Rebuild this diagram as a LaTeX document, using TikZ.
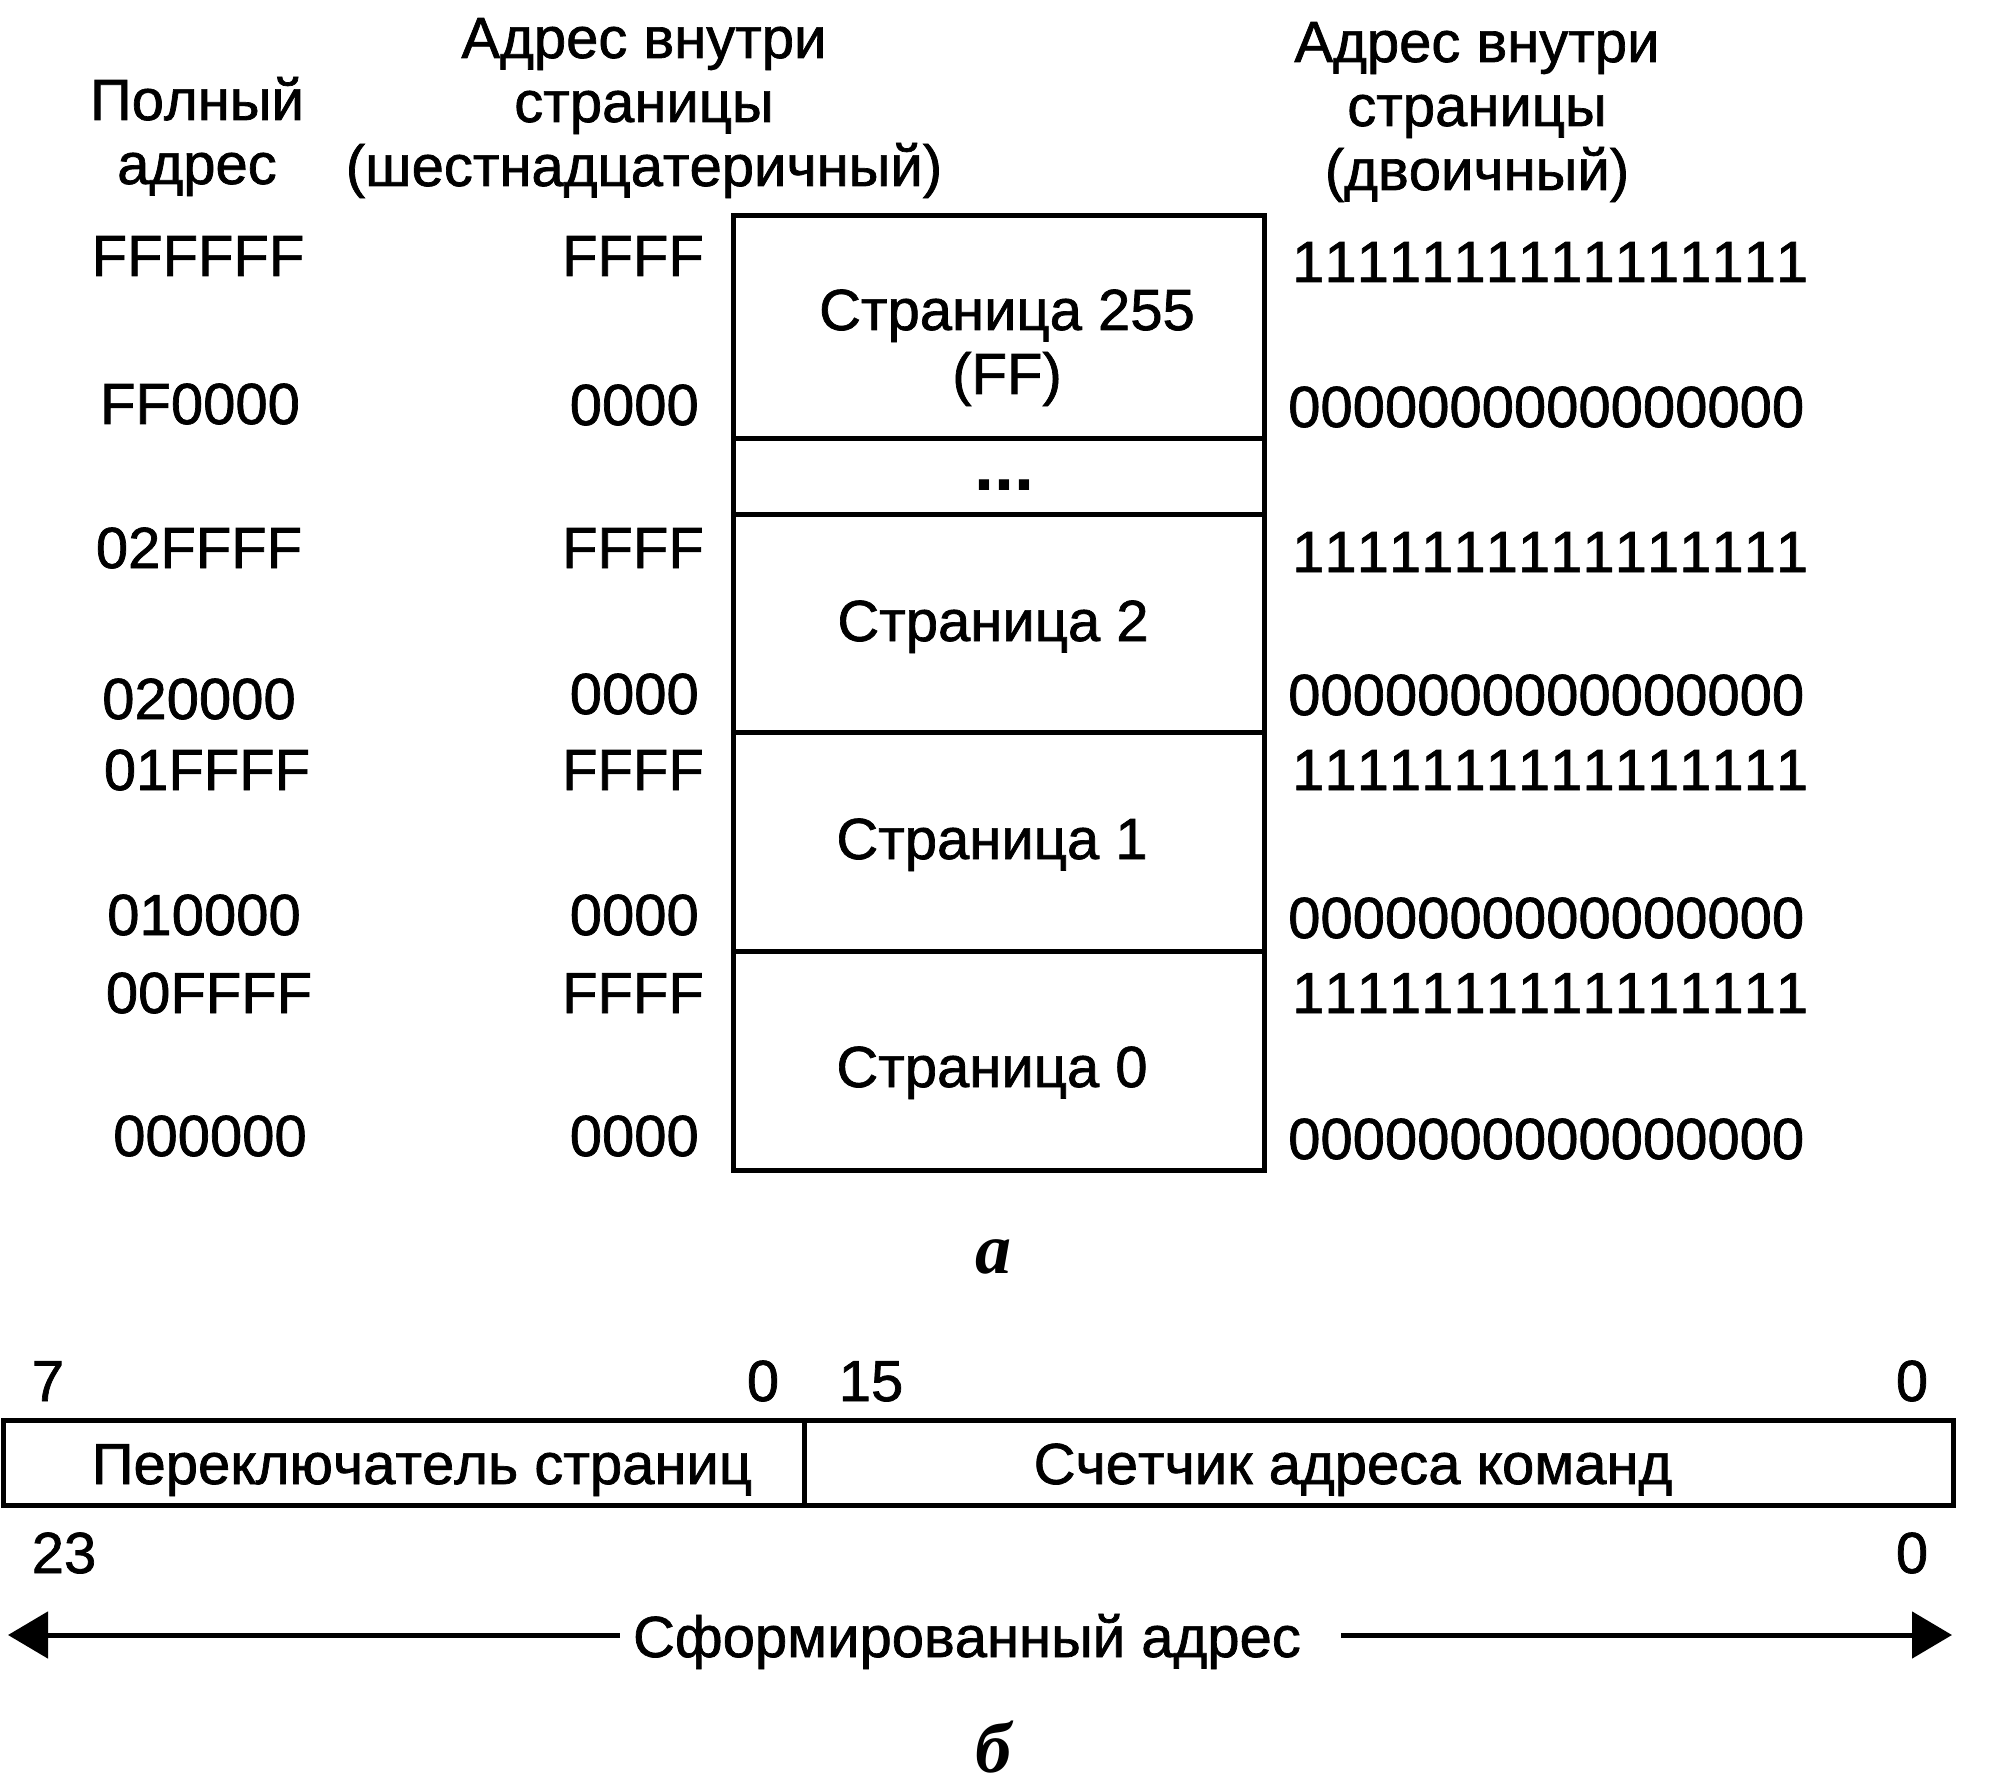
\documentclass[tikz,border=0pt]{standalone}
\usepackage{fontspec}
\setmainfont[Kerning=Off,UprightFeatures={FakeBold=1.2}]{Liberation Sans}
\newfontfamily\dotfont{Liberation Sans Bold}
\newfontfamily\itserif{Liberation Serif}
\usetikzlibrary{arrows.meta}
\begin{document}
\begin{tikzpicture}[x=1pt,y=-1pt,
  lbl/.style={inner sep=0pt, font=\fontsize{58}{64}\selectfont, anchor=base},
  hdr/.style={lbl, align=center},
  hexl/.style={lbl, anchor=base east},
  binl/.style={lbl, anchor=base west},
  pagebox/.style={draw, line width=5pt, inner sep=0pt, minimum width=531pt},
  regbox/.style={draw, line width=5pt, inner sep=0pt, minimum height=85pt},
  sublbl/.style={inner sep=0pt, anchor=base, font=\itserif\bfseries\itshape\fontsize{72}{80}\selectfont},
  bigarrow/.style={line width=5pt, -{Triangle[length=40pt,width=46pt]}}
]
\useasboundingbox (0,0) rectangle (1992,1784);

% headers (anchor base = baseline of last line)
\node[hdr] (h1) at (197,184) {Полный\\адрес};
\node[hdr] (h2) at (644,186) {Адрес внутри\\страницы\\(шестнадцатеричный)};
\node[hdr] (h3) at (1477,190) {Адрес внутри\\страницы\\(двоичный)};

% memory pages
\node[pagebox, minimum height=222pt] (p255) at (998.5,327) {};
\node[pagebox, minimum height=76pt] (pdots) at (998.5,476) {};
\node[pagebox, minimum height=218pt] (p2) at (998.5,623) {};
\node[pagebox, minimum height=219pt] (p1) at (998.5,841.5) {};
\node[pagebox, minimum height=219pt] (p0) at (998.5,1060.5) {};

\node[hdr] (t255) at (1007,394) {Страница 255\\(FF)};
\node[lbl, font=\dotfont\fontsize{72}{72}\selectfont] (tdots) at (1004,490) {...};
\node[lbl] (t2) at (993,641) {Страница 2};
\node[lbl] (t1) at (992,859) {Страница 1};
\node[lbl] (t0) at (992,1087) {Страница 0};

% full addresses
\node[lbl] (a1) at (198,276) {FFFFFF};
\node[lbl] (a2) at (200,424) {FF0000};
\node[lbl] (a3) at (199,568) {02FFFF};
\node[lbl] (a4) at (199,719) {020000};
\node[lbl] (a5) at (207,790) {01FFFF};
\node[lbl] (a6) at (204,935) {010000};
\node[lbl] (a7) at (209,1013) {00FFFF};
\node[lbl] (a8) at (210,1156) {000000};

% hex addresses
\node[hexl] (x1) at (704,276) {FFFF};
\node[hexl] (x2) at (699,425) {0000};
\node[hexl] (x3) at (704,568) {FFFF};
\node[hexl] (x4) at (699,714) {0000};
\node[hexl] (x5) at (704,790) {FFFF};
\node[hexl] (x6) at (699,935) {0000};
\node[hexl] (x7) at (704,1013) {FFFF};
\node[hexl] (x8) at (699,1156) {0000};

% binary addresses
\node[binl] (b1) at (1292,282) {1111111111111111};
\node[binl] (b2) at (1288,427) {0000000000000000};
\node[binl] (b3) at (1292,572) {1111111111111111};
\node[binl] (b4) at (1288,715) {0000000000000000};
\node[binl] (b5) at (1292,790) {1111111111111111};
\node[binl] (b6) at (1288,938) {0000000000000000};
\node[binl] (b7) at (1292,1013) {1111111111111111};
\node[binl] (b8) at (1288,1159) {0000000000000000};

\node[sublbl] (sa) at (993,1273) {а};

% register
\node[lbl] (n7) at (48,1401) {7};
\node[lbl] (n0a) at (763,1401) {0};
\node[lbl] (n15) at (871,1401) {15};
\node[lbl] (n0b) at (1912,1401) {0};

\node[regbox, minimum width=801pt] (ps) at (403.5,1462.5) {};
\node[regbox, minimum width=1149pt] (pc) at (1378.5,1462.5) {};
\node[lbl] (tps) at (422,1484) {Переключатель страниц};
\node[lbl] (tpc) at (1353,1484) {Счетчик адреса команд};

\node[lbl] (n23) at (64,1573) {23};
\node[lbl] (n0c) at (1912,1573) {0};

\node[lbl] (fa) at (967,1657) {Сформированный адрес};
\coordinate (lt) at (8,1635);
\coordinate (rt) at (1952,1635);
\draw[bigarrow] (fa.west |- lt) ++(-13,0) -- (lt);
\draw[bigarrow] (fa.east |- rt) ++(40,0) -- (rt);

\node[sublbl] (sb) at (993,1772) {б};
\end{tikzpicture}
\end{document}
